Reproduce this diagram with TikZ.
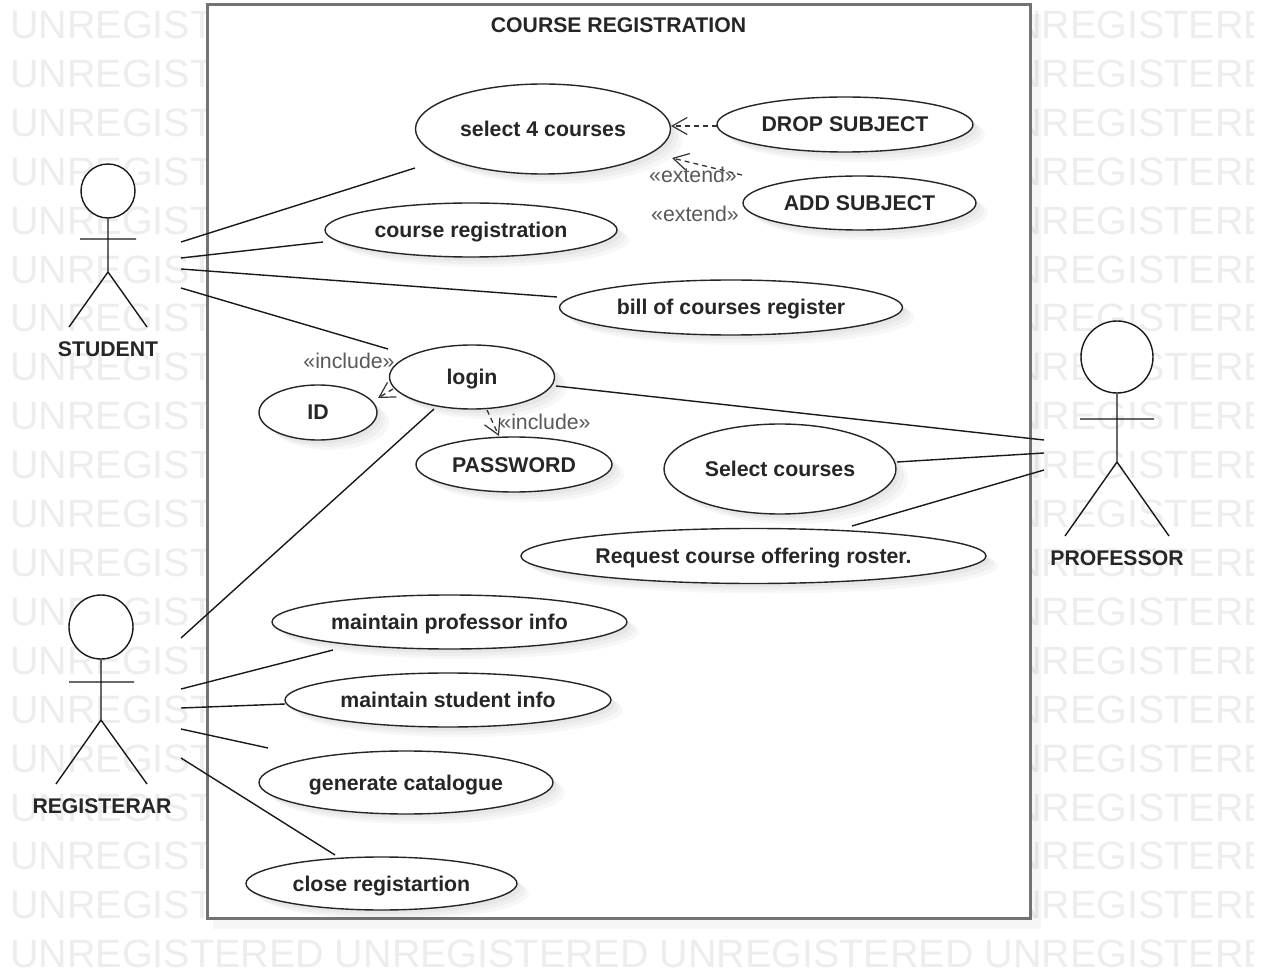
\documentclass[tikz,border=0pt]{standalone}
\usepackage{fontspec}
\setmainfont{Liberation Sans}
\usetikzlibrary{shapes.geometric,shadows,arrows.meta}
\definecolor{wm}{HTML}{EDEDED}
\tikzset{
  uc/.style={ellipse,draw=black!85,line width=1.4pt,fill=white,inner sep=0pt,
    font=\bfseries\fontsize{21.3}{24}\selectfont,text=black!85,text height=15pt,text depth=0pt,
    general shadow={fill=black,opacity=.03,shadow xshift=4pt,shadow yshift=-4pt},
    general shadow={fill=black,opacity=.03,shadow xshift=8pt,shadow yshift=-7pt},
    general shadow={fill=black,opacity=.03,shadow xshift=12pt,shadow yshift=-10pt}},
  assoc/.style={line width=1.4pt,draw=black!90},
  dep/.style={line width=1.3pt,draw=black!80,dash pattern=on 5pt off 4pt,
    -{Straight Barb[length=15pt,width=17pt,line width=1.2pt]}},
  stereo/.style={inner sep=0pt,text=black!65,font=\fontsize{21.3}{24}\selectfont},
  actorlabel/.style={inner sep=0pt,text=black!85,font=\bfseries\fontsize{21.2}{24}\selectfont},
  head/.style={circle,draw=black!90,line width=1.4pt,inner sep=0pt,fill=white},
  limb/.style={line width=1.4pt,draw=black!90},
  wmark/.style={anchor=west,inner sep=0pt,text=wm,font=\fontsize{39.5}{44}\selectfont},
}
\newcommand{\wmrow}[2]{\node[wmark] (w#1) at (10,#2) {UNREGISTERED UNREGISTERED UNREGISTERED UNREGISTERED};}
\begin{document}
\begin{tikzpicture}[x=1pt,y=-1pt]
\useasboundingbox (0,0) rectangle (1270,976);
\fill[white] (0,0) rectangle (1270,976);
% watermark
\begin{scope}
\clip (10,0) rectangle (1253,976);
\foreach \k in {0,...,19}{\pgfmathsetmacro{\yy}{25+48.9*\k}\wmrow{\k}{\yy}}
\end{scope}
% system box
\fill[black,opacity=.035] (213,14) rectangle (1041,929);
\node[draw=black!55,line width=3pt,fill=white,minimum width=823pt,minimum height=913pt,inner sep=0pt] (system) at (618.5,461.5) {};
\node[inner sep=0pt,text=black!85,font=\bfseries\fontsize{21.2}{24}\selectfont] (title) at (618.5,25) {COURSE REGISTRATION};
% use cases
\node[uc,minimum width=255pt,minimum height=90pt] (select4) at (543,129) {select 4 courses};
\node[uc,minimum width=256pt,minimum height=55pt] (drop) at (845,124.5) {DROP SUBJECT};
\node[uc,minimum width=233pt,minimum height=54pt] (add) at (859.5,203) {ADD SUBJECT};
\node[uc,minimum width=292pt,minimum height=54pt] (creg) at (471,230) {course registration};
\node[uc,minimum width=343pt,minimum height=55pt] (bill) at (731,307.5) {bill of courses register};
\node[uc,minimum width=165pt,minimum height=64pt] (login) at (472,377) {login};
\node[uc,minimum width=118pt,minimum height=55pt] (id) at (318,412.5) {ID};
\node[uc,minimum width=196pt,minimum height=55pt] (pw) at (514,464.5) {PASSWORD};
\node[uc,minimum width=232pt,minimum height=90pt] (selc) at (780,469) {Select courses};
\node[uc,minimum width=465pt,minimum height=55pt] (roster) at (753.5,556) {Request course offering roster.};
\node[uc,minimum width=355pt,minimum height=54pt] (mprof) at (449.5,622) {maintain professor info};
\node[uc,minimum width=326pt,minimum height=54pt] (mstud) at (448,700) {maintain student info};
\node[uc,minimum width=294pt,minimum height=63pt] (gen) at (406,782.5) {generate catalogue};
\node[uc,minimum width=271pt,minimum height=53pt] (close) at (381.5,883.5) {close registartion};
% student actor
\node[head,minimum size=54pt] (shead) at (108,191) {};
\coordinate (sarmL) at (80,239); \coordinate (sarmR) at (136,239);
\coordinate (shipp) at (108,272); \coordinate (slegL) at (69,327); \coordinate (slegR) at (147,327);
\draw[limb] (shead) -- (shipp) -- (slegL) (shipp) -- (slegR) (sarmL) -- (sarmR);
\node[actorlabel] (student) at (108,349) {STUDENT};
% registrar actor
\node[head,minimum size=64pt] (rhead) at (101,627) {};
\coordinate (rarmL) at (69,682); \coordinate (rarmR) at (134,682);
\coordinate (rhip) at (101,720); \coordinate (rlegL) at (56,784); \coordinate (rlegR) at (147,784);
\draw[limb] (rhead) -- (rhip) -- (rlegL) (rhip) -- (rlegR) (rarmL) -- (rarmR);
\node[actorlabel] (registrar) at (102,806) {REGISTERAR};
% professor actor
\node[head,minimum size=72pt] (phead) at (1117,357) {};
\coordinate (parmL) at (1080,419); \coordinate (parmR) at (1154,419);
\coordinate (phip) at (1117,462); \coordinate (plegL) at (1065,536); \coordinate (plegR) at (1169,536);
\draw[limb] (phead) -- (phip) -- (plegL) (phip) -- (plegR) (parmL) -- (parmR);
\node[actorlabel] (professor) at (1117,558) {PROFESSOR};
% connector ends
\coordinate (s1) at (181,242); \coordinate (e1) at (415,168);
\coordinate (s2) at (181,258); \coordinate (e2) at (323,242);
\coordinate (s3) at (181,269); \coordinate (e3) at (557,297);
\coordinate (s4) at (181,288); \coordinate (e4) at (388,349);
\coordinate (r1) at (181,638); \coordinate (f1) at (434,409);
\coordinate (r2) at (181,689); \coordinate (f2) at (333,650);
\coordinate (r3) at (181,708); \coordinate (f3) at (285,704);
\coordinate (r4) at (181,729); \coordinate (f4) at (268,748);
\coordinate (r5) at (181,758); \coordinate (f5) at (335,855);
\coordinate (p1) at (1044,440); \coordinate (g1) at (556,386);
\coordinate (p2) at (1044,453); \coordinate (g2) at (897,462);
\coordinate (p3) at (1044,470); \coordinate (g3) at (852,526);
\draw[assoc] (s1)--(e1) (s2)--(e2) (s3)--(e3) (s4)--(e4);
\draw[assoc] (r1)--(f1) (r2)--(f2) (r3)--(f3) (r4)--(f4) (r5)--(f5);
\draw[assoc] (p1)--(g1) (p2)--(g2) (p3)--(g3);
% dependencies
\coordinate (d1) at (717,126); \coordinate (d1e) at (671,126);
\coordinate (d2) at (742,175); \coordinate (d2e) at (672,158);
\coordinate (d3) at (393,389); \coordinate (d3e) at (378,398);
\coordinate (d4) at (487,410); \coordinate (d4e) at (499,436);
\draw[dep] (d1)--(d1e);
\draw[dep] (d2)--(d2e);
\draw[dep] (d3)--(d3e);
\draw[dep] (d4)--(d4e);
\node[stereo] (x1) at (693,175) {«extend»};
\node[stereo] (x2) at (695,214) {«extend»};
\node[stereo] (i1) at (349,361) {«include»};
\node[stereo] (i2) at (545,422) {«include»};
\end{tikzpicture}
\end{document}
